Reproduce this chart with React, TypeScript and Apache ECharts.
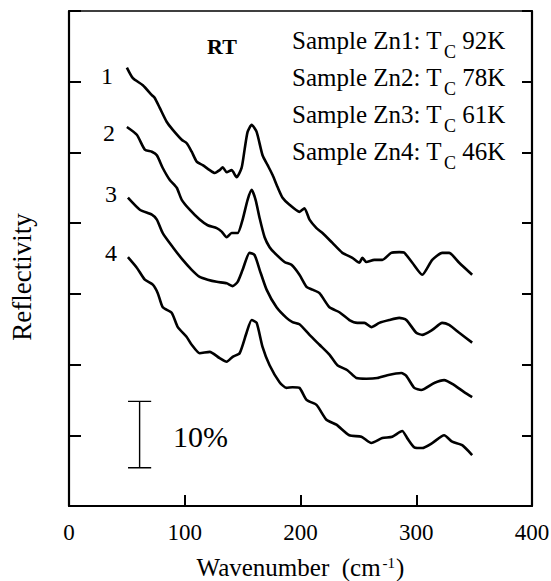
import React, { useEffect, useRef } from "react";
import * as echarts from "echarts";

const FONT = "Liberation Serif";

const xTickValues = [0, 100, 200, 300, 400];
const sampleNames = ["Sample Zn1: T", "Sample Zn2: T", "Sample Zn3: T", "Sample Zn4: T"];
const tcValues = ["92K", "78K", "61K", "46K"];
const curveLabels = ["1", "2", "3", "4"];

const curve1: [number, number][] = [
  [50, 62.0], [55.2, 60.5], [63.8, 59.5], [71.6, 58.1], [74.1, 57.7], [78.4, 56.3], [84.5, 54.3],
  [89.7, 53.2], [97.4, 51.8], [101.7, 51.3], [106, 50.1], [110.3, 48.7], [115.5, 48.2], [121.6, 47.5],
  [125.9, 47.1], [130.2, 47.5], [132.8, 47.9], [136.2, 47.2], [140.5, 47.5], [144.8, 46.5], [149.1, 47.8],
  [151.7, 50.4], [154.3, 52.9], [157.8, 53.9], [162.1, 52.9], [167.2, 49.6], [171.6, 48.2], [175.9, 46.8],
  [180.2, 45.1], [184.5, 43.6], [190.5, 42.6], [199.1, 41.6], [203.4, 42.1], [207.8, 40.5], [213.8, 39.3],
  [219, 38.6], [227.6, 37.2], [236.2, 35.8], [244.8, 35.1], [250.9, 34.4], [253.4, 35.1], [256.9, 34.5],
  [263.8, 34.8], [270.7, 34.8], [278.4, 35.8], [285.3, 35.9], [289.7, 35.8], [296.6, 34.4], [305.2, 32.7],
  [313.8, 34.8], [322.4, 35.8], [328.4, 35.8], [337.1, 34.4], [348.3, 32.7],
];

const curve2: [number, number][] = [
  [50, 53.6], [58.6, 52.5], [65.5, 50.4], [71.6, 50.1], [75.9, 49.6], [81, 47.8], [87.1, 46.1],
  [93.1, 45.0], [97.4, 43.3], [104.3, 41.9], [112.9, 40.5], [119.8, 39.7], [127.6, 39.3], [131.9, 38.8],
  [136.2, 38.0], [140.5, 38.6], [145.7, 38.6], [150, 40.5], [154.3, 43.3], [157.8, 44.7], [161.2, 43.3],
  [164.7, 40.7], [169, 38.0], [173.3, 36.6], [177.6, 35.8], [186.2, 34.5], [192.2, 34.1], [199.1, 32.7],
  [205.2, 31.0], [210.3, 30.6], [216.4, 30.1], [225, 28.1], [233.6, 27.4], [242.2, 26.3], [249.1, 25.9],
  [255.2, 25.9], [261.2, 25.3], [268.1, 25.9], [276.7, 26.3], [285.3, 26.6], [291.4, 26.3], [300, 24.5],
  [305.2, 24.2], [313.8, 24.9], [322.4, 25.9], [328.4, 25.6], [337.1, 24.5], [348.3, 23.1],
];

const curve3: [number, number][] = [
  [50.9, 43.6], [61.2, 41.9], [71.6, 41.2], [75.9, 40.5], [81, 38.6], [89.7, 36.6], [98.3, 34.8],
  [106, 33.4], [112.9, 32.4], [119.8, 32.0], [127.6, 31.7], [136.2, 31.5], [141.4, 31.1], [145.7, 31.7],
  [150, 33.4], [156, 35.8], [160.3, 35.5], [164.7, 33.4], [170.7, 30.6], [179.3, 28.1], [187.9, 26.6],
  [193.1, 26.0], [199.1, 25.7], [207.8, 24.2], [216.4, 22.8], [225, 21.4], [231.9, 19.9], [240.5, 19.2],
  [248.3, 18.1], [256.9, 18.0], [266.4, 18.1], [275, 18.5], [287.1, 18.8], [291.4, 18.4], [298.3, 16.7],
  [304.3, 16.4], [315.5, 17.4], [324.1, 17.8], [332.8, 17.1], [341.4, 16.1], [348.3, 15.4],
];

const curve4: [number, number][] = [
  [50.9, 35.2], [58.6, 33.7], [65.5, 32.0], [72.4, 31.3], [76.7, 30.1], [81, 28.1], [88.8, 27.3],
  [94, 25.3], [101.7, 23.9], [106, 22.8], [112.9, 21.6], [121.6, 21.8], [130.2, 20.9], [136.2, 20.4],
  [141.4, 21.1], [147.4, 21.6], [153.4, 24.5], [157.8, 26.3], [162.1, 25.9], [167.2, 22.5], [173.3, 19.9],
  [181.9, 17.5], [187.9, 16.7], [193.1, 16.8], [199.1, 16.7], [205.2, 15.0], [213.8, 14.3], [222.4, 12.2],
  [231, 11.5], [242.2, 10.0], [252.6, 9.8], [261.2, 8.9], [270.7, 9.6], [279.3, 9.8], [287.9, 10.6],
  [292.2, 9.6], [298.3, 8.3], [305.2, 8.2], [313.8, 8.9], [324.1, 10.0], [331, 9.1], [339.7, 8.6],
  [348.3, 7.2],
];

const curves = [curve1, curve2, curve3, curve4];

// 10% scale bar (x position, low and high ends, cap extent)
const scaleBarX = 61;
const scaleBarLow = 5.4;
const scaleBarHigh = 14.8;
const scaleCapLeft = 51;
const scaleCapRight = 71;

export default function App() {
  const ref = useRef<HTMLDivElement>(null);

  useEffect(() => {
    document.body.style.margin = "0";
    if (!ref.current) return;
    const chart = echarts.init(ref.current, null, { renderer: "svg" });

    const lineSeries = curves.map((c, i) => ({
      type: "line",
      name: "curve" + (i + 1),
      data: c,
      showSymbol: false,
      smooth: 0.2,
      lineStyle: { color: "#000", width: 2.6 },
      silent: true,
      z: 3,
    }));

    const thin = { color: "#000", width: 1.4 };
    const barSeries = [
      [[scaleBarX, scaleBarLow], [scaleBarX, scaleBarHigh]],
      [[scaleCapLeft, scaleBarLow], [scaleCapRight, scaleBarLow]],
      [[scaleCapLeft, scaleBarHigh], [scaleCapRight, scaleBarHigh]],
    ].map((d) => ({
      type: "line",
      data: d,
      showSymbol: false,
      lineStyle: thin,
      silent: true,
    }));

    const legendRich = {
      a: { fontFamily: FONT, fontSize: 25, lineHeight: 26, verticalAlign: "top", color: "#000" },
      s: { fontFamily: FONT, fontSize: 18, lineHeight: 18, padding: [15, 0, 0, 2], verticalAlign: "top", color: "#000" },
    };

    const legendTexts = sampleNames.map((n, i) => ({
      type: "text",
      x: 292,
      y: 28 + i * 37,
      style: {
        text: `{a|${n}}{s|C}{a| ${tcValues[i]}}`,
        rich: legendRich,
        fill: "#000",
        verticalAlign: "top",
        align: "left",
      },
    }));

    const labelPos = [
      [107, 76],
      [109, 133],
      [111, 194],
      [111, 253],
    ];
    const curveLabelTexts = curveLabels.map((t, i) => ({
      type: "text",
      x: labelPos[i][0],
      y: labelPos[i][1],
      style: {
        text: t,
        fontFamily: FONT,
        fontSize: 24,
        fill: "#000",
        align: "center",
        verticalAlign: "middle",
      },
    }));

    const boxLine = (w: number) => ({ show: true, onZero: false, lineStyle: { color: "#000", width: w } });

    chart.setOption({
      animation: false,
      backgroundColor: "#fff",
      grid: { left: 69, right: 19, top: 11, bottom: 75, containLabel: false, outerBoundsMode: "none" },
      xAxis: [
        {
          type: "value",
          min: 0,
          max: 400,
          interval: 100,
          position: "bottom",
          axisLine: boxLine(2.2),
          axisTick: { show: true, inside: true, length: 11, lineStyle: { color: "#000", width: 2 } },
          axisLabel: {
            margin: 15,
            fontFamily: FONT,
            fontSize: 23,
            color: "#000",
            customValues: xTickValues,
          },
          splitLine: { show: false },
          name: "{a|Wavenumber  (cm}{s|-1}{a|)}",
          nameLocation: "middle",
          nameGap: 49,
          nameTextStyle: {
            fontFamily: FONT,
            fontSize: 25,
            color: "#000",
            rich: {
              a: { fontFamily: FONT, fontSize: 25, lineHeight: 28, verticalAlign: "top", color: "#000" },
              s: { fontFamily: FONT, fontSize: 15, lineHeight: 12, verticalAlign: "top", color: "#000", padding: [0, 1, 0, 2] },
            },
          },
        },
        {
          type: "value",
          min: 0,
          max: 400,
          position: "top",
          axisLine: boxLine(1.6),
          axisTick: { show: false },
          axisLabel: { show: false },
          splitLine: { show: false },
        },
      ],
      yAxis: [
        {
          type: "value",
          min: 0,
          max: 70,
          interval: 10,
          position: "left",
          axisLine: boxLine(2.2),
          axisTick: { show: true, inside: true, length: 12, lineStyle: { color: "#000", width: 2 } },
          axisLabel: { show: false },
          splitLine: { show: false },
        },
        {
          type: "value",
          min: 0,
          max: 70,
          interval: 10,
          position: "right",
          axisLine: boxLine(2.2),
          axisTick: { show: true, inside: true, length: 10, lineStyle: { color: "#000", width: 2 } },
          axisLabel: { show: false },
          splitLine: { show: false },
        },
      ],
      series: [...lineSeries, ...barSeries],
      graphic: [
        {
          type: "text",
          x: 22,
          y: 277,
          rotation: Math.PI / 2,
          style: {
            text: "Reflectivity",
            fontFamily: FONT,
            fontSize: 27,
            fill: "#000",
            align: "center",
            verticalAlign: "middle",
          },
        },
        {
          type: "text",
          x: 222,
          y: 46,
          style: {
            text: "RT",
            fontFamily: FONT,
            fontSize: 22,
            fontWeight: "bold",
            fill: "#000",
            align: "center",
            verticalAlign: "middle",
          },
        },
        {
          type: "text",
          x: 173,
          y: 436,
          style: {
            text: "10%",
            fontFamily: FONT,
            fontSize: 30,
            fill: "#000",
            align: "left",
            verticalAlign: "middle",
          },
        },
        ...legendTexts,
        ...curveLabelTexts,
      ],
    });

    return () => chart.dispose();
  }, []);

  return <div ref={ref} style={{ width: 551, height: 581 }} />;
}
